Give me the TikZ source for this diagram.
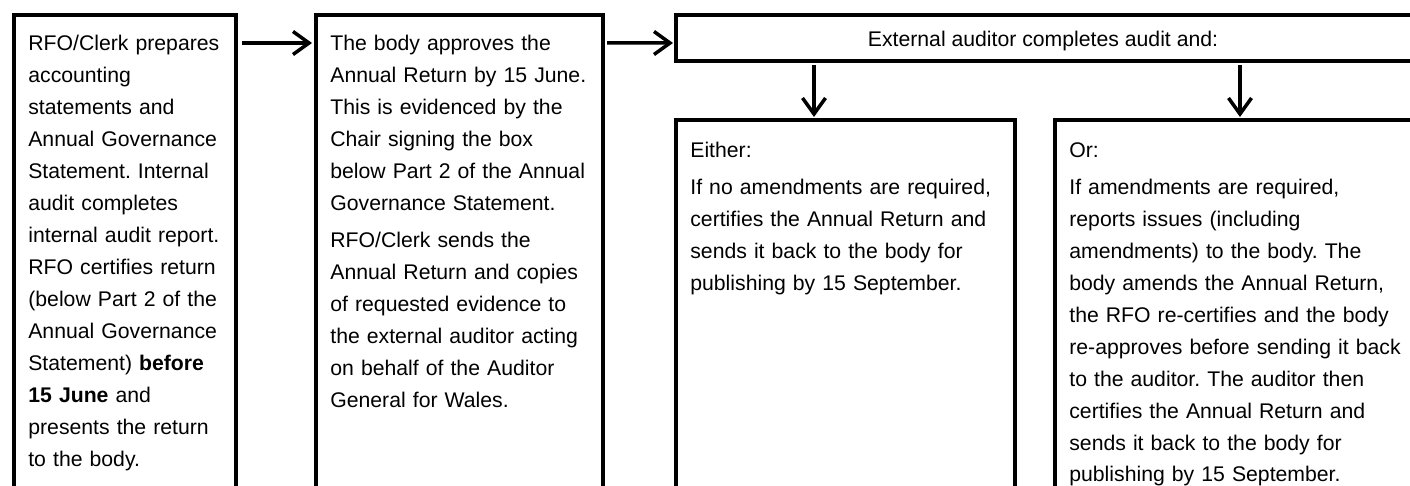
\documentclass[tikz,border=0pt]{standalone}
\usepackage{fontspec}
\setmainfont{Liberation Sans}
\usetikzlibrary{arrows.meta,fit}

\newcommand{\bodysize}{\fontsize{12.07pt}{18.2pt}\selectfont\frenchspacing}

\tikzset{
  panel/.style={draw, line width=0.8mm, inner sep=0pt},
  words/.style={anchor=north west, inner sep=0pt, align=left, font=\bodysize},
  flow/.style={line width=0.7mm, -{Straight Barb[length=3.2mm, width=4.6mm]}},
}

\begin{document}
\begin{tikzpicture}[x=0.2mm, y=-0.2mm]
  \useasboundingbox (0,0) rectangle (1410,486);
  \clip (0,0) rectangle (1410,486);

  % Frames
  \node[panel, fit={(14,15) (236,640)}] (prep) {};
  \node[panel, fit={(316,15) (603,640)}] (approve) {};
  \node[panel, fit={(676,15) (1430,61)}] (audit) {};
  \node[panel, fit={(676,120) (1015,640)}] (either) {};
  \node[panel, fit={(1055,120) (1460,640)}] (orelse) {};

  % Texts
  \node[inner sep=0pt, font=\bodysize] (audittext) at (1043,41) {External auditor completes audit and:};
  \node[words, text width=42mm] (preptext) at (28,35) {RFO/Clerk prepares\\accounting\\statements and\\Annual Governance\\Statement. Internal\\audit completes\\internal audit report.\\RFO certifies return\\(below Part 2 of the\\Annual Governance\\Statement) \textbf{before}\\\textbf{15 June} and\\presents the return\\to the body.};
  \node[words, text width=54mm] (approvetext) at (330,35) {The body approves the\\Annual Return by 15 June.\\This is evidenced by the\\Chair signing the box\\below Part 2 of the Annual\\Governance Statement.\\[1mm]RFO/Clerk sends the\\Annual Return and copies\\of requested evidence to\\the external auditor acting\\on behalf of the Auditor\\General for Wales.};
  \node[words, text width=66mm] (eithertext) at (690,142) {Either:\\[1mm]If no amendments are required,\\certifies the Annual Return and\\sends it back to the body for\\publishing by 15 September.};
  \node[words, text width=70mm] (orelsetext) at (1069,142) {Or:\\[1mm]If amendments are required,\\reports issues (including\\amendments) to the body. The\\body amends the Annual Return,\\the RFO re-certifies and the body\\re-approves before sending it back\\to the auditor. The auditor then\\certifies the Annual Return and\\sends it back to the body for\\publishing by 15 September.};

  % Arrows
  \draw[flow] ([shift={(4,30)}]prep.north east) -- ([shift={(-2,30)}]approve.north west);
  \draw[flow] ([shift={(2,30)}]approve.north east) -- ([shift={(-1,30)}]audit.north west);
  \draw[flow] ([shift={(140,2)}]audit.south west) -- ([shift={(140,-1)}]either.north west);
  \draw[flow] ([shift={(566,2)}]audit.south west) -- ([shift={(187,-1)}]orelse.north west);
\end{tikzpicture}
\end{document}
